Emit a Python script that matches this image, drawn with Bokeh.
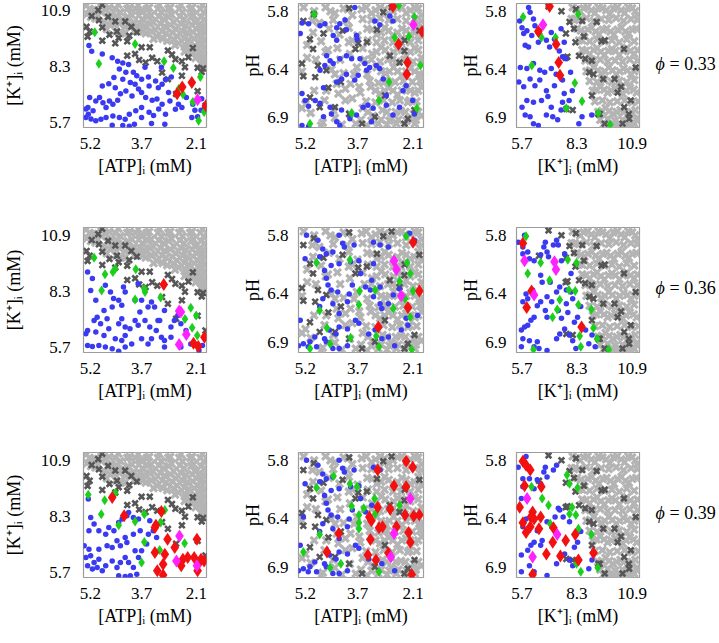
from bokeh.plotting import figure
from bokeh.layouts import column, row
from bokeh.models import Range1d, FixedTicker, LinearAxis, CustomJSTickFormatter
from bokeh.embed import file_html
from bokeh.resources import INLINE

FONT = "Liberation Serif"

# ---------------- axes ----------------
ATP_TICKS = [5.2, 3.7, 2.1]
K_TICKS = [5.7, 8.3, 10.9]
PH_TICKS = [5.8, 6.4, 6.9]
ATP_RANGE = (5.4, 1.8)      # reversed
K_RANGE = (5.45, 11.25)
PH_RANGE = (7.0, 5.72)      # reversed
PHI_LABELS = ["0.33", "0.36", "0.39"]
ATP_LABEL = "[ATP]\u1d62 (mM)"
K_LABEL = "[K\u207a]\u1d62 (mM)"
PH_LABEL = "pH"

# ---------------- shared grey samples (same in every row) ----------------
atp_k_lightgray = [
    (5.32, 11.15), (5.30, 10.75), (5.12, 10.95), (5.05, 10.55), (4.92, 11.18), (4.88, 10.85), (4.80, 10.40), (4.72, 10.05),
    (4.65, 11.05), (4.58, 10.70), (4.52, 10.30), (4.45, 9.95), (4.38, 11.20), (4.32, 10.85), (4.25, 10.50), (4.18, 10.15), (4.20, 9.85),
    (4.05, 11.05), (3.98, 10.70), (3.92, 10.35), (3.85, 10.05), (3.80, 11.18), (3.72, 10.88), (3.68, 10.52), (3.62, 10.20), (3.58, 9.85),
    (3.48, 11.05), (3.42, 10.70), (3.36, 10.38), (3.30, 10.02), (3.25, 9.70), (3.18, 11.18), (3.12, 10.85), (3.06, 10.52), (3.02, 10.18),
    (2.98, 9.85), (2.95, 9.50), (2.86, 11.05), (2.82, 10.72), (2.76, 10.38), (2.70, 10.05), (2.66, 9.72), (2.62, 9.40), (2.55, 11.18),
    (2.50, 10.85), (2.46, 10.52), (2.40, 10.20), (2.36, 9.88), (2.32, 9.55), (2.38, 9.20), (2.30, 8.95), (2.22, 11.05), (2.18, 10.70),
    (2.14, 10.38), (2.10, 10.05), (2.06, 9.72), (2.02, 9.40), (2.08, 9.08), (2.00, 8.78), (1.92, 11.18), (1.88, 10.85), (1.86, 10.52),
    (1.90, 10.20), (1.85, 9.88), (1.88, 9.55), (1.86, 9.22), (1.90, 8.92), (1.85, 8.60), (1.88, 8.35),
    (5.22, 11.00), (5.18, 10.62), (4.98, 10.70), (4.75, 10.95), (4.70, 10.60), (4.62, 10.25), (4.48, 11.00), (4.42, 10.65),
    (4.35, 10.30), (4.30, 9.85), (4.12, 11.00), (4.10, 10.62), (4.02, 10.28), (3.92, 9.95), (3.88, 11.00), (3.78, 10.68),
    (3.75, 10.30), (3.66, 9.95), (3.55, 11.00), (3.52, 10.65), (3.45, 10.30), (3.40, 9.95), (3.35, 9.60), (3.22, 11.00),
    (3.20, 10.65), (3.15, 10.30), (3.10, 9.95), (3.08, 9.60), (2.92, 11.00), (2.90, 10.62), (2.86, 10.25), (2.80, 9.90),
    (2.76, 9.58), (2.72, 9.30), (2.60, 11.00), (2.58, 10.65), (2.55, 10.30), (2.50, 9.95), (2.45, 9.62), (2.42, 9.30),
    (2.44, 9.00), (2.28, 11.00), (2.25, 10.62), (2.22, 10.25), (2.20, 9.92), (2.16, 9.60), (2.14, 9.28), (2.18, 8.98),
    (2.12, 8.70), (1.98, 11.00), (1.96, 10.62), (1.98, 10.28), (1.95, 9.95), (1.97, 9.62), (1.95, 9.30), (1.98, 9.00),
    (1.94, 8.65), (1.96, 8.45),
]
atp_k_darkgray = [
    (4.85, 11.19), (4.97, 10.94), (5.16, 10.67), (5.31, 10.16), (5.22, 9.94), (4.95, 10.47), (4.68, 10.63), (4.47, 10.41),
    (4.85, 10.13), (4.64, 9.79), (4.37, 9.64), (4.47, 9.39), (4.12, 9.48), (4.06, 9.74), (4.18, 10.41), (4.00, 10.16),
    (3.84, 9.90), (4.12, 8.81), (3.89, 8.89), (3.77, 8.61), (3.58, 8.49), (3.39, 8.71), (3.24, 8.55), (2.93, 9.05),
    (2.81, 8.86), (2.71, 8.64), (2.52, 8.55), (2.43, 8.27), (2.33, 8.74), (2.20, 9.17), (2.06, 8.24), (1.94, 8.05),
    (1.90, 8.21), (2.52, 7.87), (3.10, 8.02), (4.42, 9.94), (3.70, 9.20), (3.46, 9.20), (4.85, 9.51), (2.69, 7.02),
    (1.83, 6.47), (2.06, 7.15), (2.93, 7.71), (5.28, 9.70),
]
atp_ph_lightgray = [
    (5.25, 5.76), (4.95, 5.80), (4.62, 5.76), (4.35, 5.82), (4.10, 5.77), (3.85, 5.84), (3.58, 5.78), (3.30, 5.82), (3.05, 5.76),
    (2.80, 5.83), (2.55, 5.77), (2.30, 5.82), (2.05, 5.76), (1.86, 5.84), (4.98, 6.02), (4.52, 5.98), (4.22, 6.04), (3.95, 5.97),
    (3.70, 6.05), (3.42, 5.98), (3.15, 6.04), (2.92, 5.97), (2.68, 6.05), (2.42, 5.98), (2.18, 6.04), (1.95, 5.97), (4.62, 6.22),
    (4.28, 6.18), (3.92, 6.24), (3.55, 6.18), (3.28, 6.24), (3.02, 6.17), (2.78, 6.25), (2.55, 6.19), (2.30, 6.26), (2.05, 6.18),
    (1.86, 6.28), (5.30, 6.42), (4.45, 6.40), (4.10, 6.44), (3.72, 6.38), (3.42, 6.45), (3.15, 6.38), (2.90, 6.44), (2.66, 6.38),
    (2.42, 6.46), (2.18, 6.39), (1.92, 6.45), (4.60, 6.62), (4.05, 6.60), (3.62, 6.64), (3.32, 6.58), (3.05, 6.65), (2.80, 6.59),
    (2.55, 6.66), (2.30, 6.60), (2.05, 6.64), (1.86, 6.58), (5.05, 6.85), (4.40, 6.82), (3.92, 6.86), (3.55, 6.80), (3.25, 6.88),
    (2.98, 6.82), (2.72, 6.90), (2.45, 6.83), (2.20, 6.90), (1.95, 6.84), (4.15, 6.97), (3.75, 6.96), (3.42, 6.98), (3.10, 6.96),
    (2.85, 6.97), (2.58, 6.96), (2.32, 6.98), (2.05, 6.96), (2.70, 6.30), (2.45, 6.12), (2.90, 6.52), (2.20, 6.72), (3.50, 6.30),
    (3.85, 6.70),
    (4.48, 5.80), (3.98, 5.78), (3.45, 5.76), (3.18, 5.79), (2.92, 5.78), (2.68, 5.80), (2.42, 5.76), (2.18, 5.79), (1.95, 5.77),
    (3.28, 5.99), (3.02, 6.02), (2.80, 6.00), (2.55, 6.02), (2.30, 6.00), (2.06, 6.02), (1.86, 6.05),
    (3.15, 6.22), (2.90, 6.20), (2.66, 6.22), (2.42, 6.20), (2.18, 6.22), (1.95, 6.20),
    (3.02, 6.42), (2.78, 6.42), (2.55, 6.42), (2.30, 6.42), (2.05, 6.42), (1.86, 6.46),
    (3.18, 6.62), (2.92, 6.62), (2.68, 6.62), (2.42, 6.62), (2.18, 6.62), (1.95, 6.62),
    (3.40, 6.84), (2.85, 6.84), (2.60, 6.84), (2.32, 6.84), (2.08, 6.86), (1.86, 6.88),
    (3.55, 5.88), (3.30, 5.89), (3.05, 5.87), (2.80, 5.89), (2.55, 5.88), (2.30, 5.90), (2.05, 5.88), (1.86, 5.90), (4.40, 5.89),
    (5.00, 5.90), (3.40, 6.10), (3.15, 6.12), (2.92, 6.10), (2.68, 6.12), (2.42, 6.08), (2.18, 6.12), (1.95, 6.10), (3.95, 6.12),
    (4.75, 6.11), (3.30, 6.30), (3.05, 6.32), (2.82, 6.30), (2.58, 6.32), (2.35, 6.30), (2.10, 6.32), (1.88, 6.33), (4.20, 6.30),
    (5.15, 6.28), (3.35, 6.52), (3.10, 6.54), (2.85, 6.52), (2.62, 6.53), (2.38, 6.52), (2.12, 6.53), (1.90, 6.52), (4.30, 6.55),
    (3.90, 6.55), (3.45, 6.73), (3.18, 6.74), (2.95, 6.72), (2.70, 6.74), (2.48, 6.72), (2.25, 6.74), (2.00, 6.73), (4.05, 6.72),
    (5.20, 6.76), (3.60, 6.92), (3.30, 6.93), (3.02, 6.92), (2.78, 6.93), (2.52, 6.92), (2.28, 6.93), (2.02, 6.92), (4.70, 6.95),
    (5.15, 6.15), (4.90, 6.30), (4.55, 6.20), (4.35, 6.45), (4.95, 6.62), (4.65, 6.72), (4.25, 6.65), (3.80, 6.45), (3.65, 6.58),
    (3.85, 6.10), (4.00, 5.90), (4.80, 5.92), (5.30, 6.80), (4.75, 6.98), (4.35, 6.90),
]
atp_ph_darkgray = [
    (5.26, 5.90), (4.96, 5.83), (3.94, 5.77), (2.96, 5.81), (2.72, 5.76), (3.14, 5.99), (4.13, 6.00), (3.43, 6.12), (3.76, 6.19),
    (5.07, 6.09), (4.98, 6.19), (4.84, 6.36), (5.26, 6.47), (4.60, 6.41), (4.18, 6.53), (5.07, 6.69), (4.79, 6.79), (3.94, 6.86),
    (3.57, 6.96), (2.77, 6.26), (2.35, 6.21), (1.92, 6.00), (2.91, 6.67), (2.06, 6.82), (2.35, 6.96), (5.30, 6.34), (4.92, 6.48),
    (4.54, 6.59), (4.35, 6.79), (3.20, 6.89), (2.49, 6.33), (2.34, 6.10), (2.25, 6.91), (4.68, 6.03), (3.68, 6.13),
]
k_ph_lightgray = [
    (8.10, 5.76), (8.45, 5.80), (8.80, 5.76), (9.15, 5.82), (9.50, 5.77), (9.85, 5.83), (10.20, 5.76), (10.55, 5.82), (10.90, 5.77),
    (11.15, 5.84), (8.30, 5.98), (8.65, 6.02), (9.00, 5.97), (9.35, 6.04), (9.70, 5.98), (10.05, 6.04), (10.40, 5.97), (10.75, 6.03),
    (11.10, 5.98), (8.55, 6.20), (8.90, 6.24), (9.25, 6.18), (9.60, 6.25), (9.95, 6.19), (10.30, 6.25), (10.65, 6.18), (11.00, 6.24),
    (8.75, 6.42), (9.10, 6.38), (9.45, 6.44), (9.80, 6.38), (10.15, 6.45), (10.50, 6.39), (10.85, 6.45), (11.15, 6.40), (9.05, 6.62),
    (9.40, 6.58), (9.75, 6.64), (10.10, 6.60), (10.45, 6.65), (10.80, 6.59), (11.12, 6.64), (9.30, 6.84), (9.65, 6.80), (10.00, 6.86),
    (10.35, 6.82), (10.70, 6.88), (11.05, 6.82), (9.55, 6.97), (9.95, 6.98), (10.30, 6.96), (10.65, 6.98), (11.00, 6.96), (8.40, 6.10),
    (9.00, 6.30), (8.20, 5.88),
    (8.28, 5.78), (8.62, 5.77), (8.98, 5.79), (9.32, 5.76), (9.68, 5.79), (10.02, 5.77), (10.38, 5.79), (10.72, 5.76), (11.05, 5.80),
    (8.48, 6.00), (8.82, 5.99), (9.18, 6.01), (9.52, 5.99), (9.88, 6.01), (10.22, 5.99), (10.58, 6.01), (10.92, 5.99),
    (8.72, 6.21), (9.08, 6.20), (9.42, 6.22), (9.78, 6.21), (10.12, 6.21), (10.48, 6.21), (10.82, 6.21), (11.15, 6.20),
    (8.92, 6.41), (9.28, 6.41), (9.62, 6.42), (9.98, 6.41), (10.32, 6.42), (10.68, 6.41), (11.00, 6.42),
    (9.22, 6.61), (9.58, 6.61), (9.92, 6.62), (10.28, 6.61), (10.62, 6.62), (10.98, 6.61),
    (9.48, 6.83), (9.82, 6.83), (10.18, 6.84), (10.52, 6.84), (10.88, 6.84), (11.15, 6.90),
    (9.75, 6.97), (10.12, 6.97), (10.48, 6.97), (10.82, 6.97),
    (8.05, 5.88), (8.40, 5.89), (8.75, 5.87), (9.10, 5.90), (9.45, 5.88), (9.80, 5.89), (10.15, 5.87), (10.50, 5.90), (10.85, 5.88),
    (11.15, 5.89), (8.55, 6.10), (8.90, 6.11), (9.25, 6.09), (9.60, 6.11), (9.95, 6.10), (10.30, 6.12), (10.65, 6.09), (11.00, 6.11),
    (8.70, 6.31), (9.05, 6.32), (9.40, 6.30), (9.75, 6.32), (10.10, 6.31), (10.45, 6.32), (10.80, 6.30), (11.15, 6.31),
    (8.90, 6.52), (9.25, 6.53), (9.60, 6.51), (9.95, 6.53), (10.30, 6.52), (10.65, 6.53), (11.00, 6.51),
    (9.15, 6.73), (9.50, 6.72), (9.85, 6.74), (10.20, 6.73), (10.55, 6.72), (10.90, 6.74), (11.20, 6.73),
    (9.40, 6.92), (9.75, 6.91), (10.10, 6.93), (10.45, 6.92), (10.80, 6.91), (11.15, 6.93),
]
k_ph_darkgray = [
    (6.96, 5.75), (7.57, 5.80), (8.25, 5.78), (7.95, 5.91), (8.55, 5.90), (6.51, 6.01), (8.63, 6.06), (9.46, 6.11), (10.52, 6.19),
    (8.40, 6.26), (7.77, 6.28), (9.08, 6.45), (9.54, 6.50), (10.07, 6.50), (10.22, 6.64), (9.01, 6.67), (9.31, 6.86), (10.75, 6.86),
    (10.45, 6.96), (7.80, 6.81), (8.10, 6.82), (8.16, 5.98), (7.78, 6.03), (9.23, 5.91), (9.61, 6.10), (8.23, 6.12), (7.85, 6.27),
    (8.69, 6.29), (9.00, 6.31), (8.88, 6.43), (10.38, 6.58), (10.84, 6.72), (11.07, 6.38), (10.53, 6.79), (10.76, 6.91), (9.61, 6.96),
    (9.38, 6.86),
]

# ---------------- phi = 0.33 ----------------
r1_atp_k_blue = [
    (5.24, 9.28), (5.16, 9.02), (4.85, 8.89), (4.56, 8.71), (4.40, 8.55), (4.25, 8.47), (4.08, 8.40), (4.35, 8.19), (4.16, 8.04),
    (3.94, 8.04), (3.84, 7.87), (3.70, 7.71), (3.50, 7.81), (4.03, 7.56), (3.89, 7.47), (3.79, 7.25), (4.25, 7.71), (4.51, 7.79),
    (4.66, 7.50), (4.85, 7.39), (4.47, 7.31), (4.32, 7.03), (4.16, 7.16), (3.98, 6.92), (3.70, 7.09), (3.58, 6.85), (3.39, 6.72),
    (3.25, 6.78), (3.21, 7.31), (3.48, 7.39), (3.29, 7.62), (3.10, 7.47), (3.00, 7.70), (2.91, 7.09), (2.87, 6.69), (3.10, 6.54),
    (3.20, 6.32), (3.00, 6.07), (3.35, 6.01), (3.48, 6.16), (3.70, 6.38), (3.87, 6.23), (4.06, 6.07), (4.18, 5.84), (4.25, 5.54),
    (4.06, 5.51), (3.91, 5.60), (3.70, 5.92), (4.35, 5.92), (4.54, 5.99), (4.74, 5.92), (4.89, 5.84), (5.04, 5.76), (5.18, 5.85),
    (5.33, 5.92), (5.27, 6.38), (5.12, 6.23), (4.93, 6.85), (5.04, 6.69), (4.83, 6.61), (4.64, 6.69), (4.74, 6.38), (4.54, 6.54),
    (4.40, 6.72), (5.22, 6.85), (5.33, 6.32), (5.26, 6.07), (2.20, 6.54), (2.14, 6.26), (2.06, 5.95), (1.96, 6.26), (1.94, 6.80),
    (2.23, 5.92), (2.62, 6.54), (2.52, 6.38), (2.71, 6.30), (2.39, 6.85), (3.60, 8.27), (3.12, 8.27), (2.83, 7.81), (3.41, 5.64),
    (3.02, 5.60), (4.56, 5.56),
]
r1_atp_k_green = [(5.07, 9.90), (3.89, 9.36), (4.95, 8.43), (3.04, 8.55), (2.77, 8.23), (1.98, 7.81), (2.61, 7.26), (2.49, 7.00),
                  (2.20, 6.64), (1.87, 6.18), (2.03, 5.76)]
r1_atp_k_red = [(2.51, 7.34), (2.66, 7.03), (2.23, 7.56), (1.82, 6.47)]
r1_atp_k_magenta = [(2.06, 6.75)]

r1_atp_ph_blue = [
    (5.30, 5.92), (5.11, 5.93), (5.35, 6.03), (4.78, 5.95), (4.64, 5.93), (4.30, 5.97), (4.21, 5.93), (4.40, 6.05), (4.30, 6.10),
    (4.02, 5.99), (4.06, 5.89), (3.78, 5.76), (3.73, 6.05), (3.71, 6.09), (3.20, 5.90), (3.06, 5.94), (2.77, 5.85), (2.68, 5.90),
    (4.59, 6.26), (4.49, 6.31), (4.40, 6.34), (4.64, 6.36), (4.78, 6.41), (4.21, 6.29), (4.02, 6.26), (3.87, 6.29), (3.63, 6.29),
    (3.49, 6.34), (3.35, 6.38), (3.16, 6.36), (3.06, 6.39), (2.96, 6.50), (3.44, 6.41), (3.68, 6.46), (3.78, 6.51), (4.02, 6.45),
    (4.16, 6.50), (4.30, 6.53), (4.68, 6.59), (5.30, 6.65), (5.21, 6.72), (5.11, 6.78), (4.92, 6.72), (4.78, 6.75), (4.49, 6.79),
    (4.45, 6.86), (4.16, 6.82), (3.92, 6.91), (3.73, 6.87), (3.54, 6.79), (3.40, 6.77), (3.25, 6.80), (2.87, 6.77), (2.68, 6.87),
    (2.49, 6.79), (2.11, 6.72), (2.39, 6.62), (2.87, 6.67), (3.30, 6.94), (4.21, 6.98), (4.30, 6.94), (5.11, 6.99), (5.30, 6.98),
    (4.68, 6.89), (2.06, 6.86), (2.30, 6.57),
]
r1_atp_ph_green = [(4.95, 5.83), (2.51, 5.74), (2.06, 5.86), (2.63, 6.07), (2.22, 6.06), (1.89, 6.36), (2.79, 6.53), (3.08, 6.72),
                   (3.87, 6.85), (5.07, 6.96), (1.99, 6.80)]
r1_atp_ph_red = [(2.68, 5.75), (1.84, 6.01), (2.52, 6.14), (2.26, 6.33), (2.28, 6.45)]
r1_atp_ph_magenta = [(2.09, 5.94)]

r1_k_ph_blue = [
    (5.60, 5.90), (5.71, 5.97), (5.94, 6.00), (6.02, 5.76), (6.09, 5.81), (6.25, 5.88), (6.32, 5.95), (5.79, 6.03), (5.86, 6.15),
    (6.02, 6.17), (6.17, 6.05), (6.48, 6.12), (6.86, 6.10), (7.01, 6.17), (7.09, 6.02), (7.24, 6.09), (7.55, 5.98), (7.47, 6.21),
    (7.62, 6.27), (7.70, 6.12), (7.78, 6.29), (5.63, 6.38), (5.94, 6.39), (6.25, 6.34), (6.55, 6.41), (6.78, 6.43), (7.09, 6.39),
    (7.32, 6.45), (7.24, 6.57), (7.62, 6.51), (8.00, 6.43), (5.56, 6.53), (5.79, 6.58), (6.09, 6.50), (6.32, 6.57), (6.55, 6.51),
    (6.86, 6.62), (6.93, 6.68), (6.63, 6.72), (6.25, 6.74), (5.94, 6.72), (5.71, 6.79), (5.86, 6.87), (6.09, 6.89), (6.25, 6.96),
    (6.48, 6.98), (6.86, 6.87), (7.16, 6.89), (7.39, 6.92), (7.55, 6.82), (7.62, 6.74), (7.93, 6.72), (7.70, 6.65), (8.08, 6.62),
    (8.54, 6.89), (9.00, 6.87), (8.39, 6.96), (7.09, 6.79),
]
r1_k_ph_green = [(5.76, 5.86), (8.36, 5.83), (6.63, 6.07), (7.29, 6.07), (6.17, 6.36), (8.20, 6.54), (8.54, 6.73), (7.80, 6.80),
                 (9.31, 6.85), (9.87, 6.97)]
r1_k_ph_red = [(7.01, 5.75), (6.48, 6.01), (7.32, 6.14), (7.44, 6.33), (7.50, 6.46)]
r1_k_ph_magenta = [(6.70, 5.94)]

# ---------------- phi = 0.36 ----------------
r2_atp_k_blue = [
    (5.28, 9.19), (5.14, 8.88), (5.19, 8.33), (5.04, 7.87), (4.76, 8.57), (4.61, 8.26), (4.52, 7.95), (4.37, 7.87), (4.23, 8.49),
    (4.18, 8.26), (4.28, 7.64), (4.56, 7.56), (4.80, 7.40), (5.00, 7.09), (5.09, 6.94), (4.90, 6.78), (4.71, 7.02), (4.66, 6.55),
    (4.37, 6.78), (4.28, 7.02), (4.18, 6.63), (4.04, 6.55), (3.89, 6.94), (3.80, 6.71), (3.75, 7.33), (3.70, 7.87), (3.51, 7.56),
    (3.41, 7.79), (3.32, 7.56), (3.22, 6.94), (3.27, 6.47), (3.46, 6.63), (3.41, 6.09), (3.12, 6.16), (3.03, 6.01), (3.17, 6.94),
    (3.03, 7.40), (2.84, 6.63), (2.74, 6.94), (2.64, 7.17), (2.84, 6.16), (3.03, 5.70), (3.51, 5.85), (3.70, 6.09), (3.99, 5.85),
    (4.18, 5.70), (4.37, 5.51), (4.56, 5.62), (4.76, 5.70), (4.95, 5.78), (5.14, 5.73), (5.28, 5.78), (5.33, 6.32), (5.28, 6.47),
    (5.04, 6.40), (4.80, 6.24), (4.47, 6.09), (4.28, 6.01), (4.18, 6.24), (2.55, 6.78), (2.40, 6.47), (2.26, 5.85), (2.02, 5.54),
    (1.92, 5.78), (2.55, 5.70), (3.60, 6.94), (3.89, 7.87), (3.80, 8.64),
]
r2_atp_k_green = [(5.09, 9.85), (4.77, 9.08), (4.54, 9.19), (4.47, 9.34), (4.87, 8.33), (3.87, 9.31), (3.62, 8.41), (3.60, 8.26),
                  (3.89, 7.91), (3.14, 8.00), (2.26, 7.53), (2.10, 7.17), (2.43, 7.00), (2.22, 6.60), (2.07, 6.24)]
r2_atp_k_red = [(3.05, 8.60), (2.18, 5.88), (2.04, 5.73), (1.86, 6.16)]
r2_atp_k_magenta = [(2.60, 7.37), (2.55, 7.33), (2.39, 6.29), (2.60, 5.82)]

r2_atp_ph_blue = [
    (5.17, 5.80), (4.84, 5.85), (4.23, 5.80), (4.13, 5.88), (4.08, 5.92), (3.80, 5.90), (4.41, 5.97), (4.70, 5.94), (4.60, 5.99),
    (4.79, 6.02), (5.21, 6.04), (4.65, 6.16), (4.46, 6.11), (4.23, 6.09), (3.90, 6.07), (3.66, 6.06), (3.24, 6.09), (3.05, 5.90),
    (3.24, 5.87), (3.61, 6.19), (3.47, 6.33), (3.33, 6.36), (3.24, 6.43), (3.05, 6.50), (3.00, 6.55), (2.81, 6.50), (2.67, 6.41),
    (2.49, 6.35), (4.60, 6.24), (4.55, 6.31), (4.46, 6.36), (4.27, 6.38), (4.70, 6.45), (4.79, 6.53), (4.41, 6.50), (4.23, 6.60),
    (3.99, 6.48), (3.94, 6.40), (3.85, 6.31), (3.76, 6.67), (3.66, 6.70), (3.99, 6.76), (4.23, 6.74), (4.32, 6.81), (4.51, 6.77),
    (4.65, 6.86), (4.60, 6.89), (4.93, 6.84), (5.07, 6.89), (5.35, 6.67), (5.40, 6.93), (5.26, 6.91), (5.12, 6.94), (4.88, 6.94),
    (4.41, 6.96), (4.23, 6.96), (3.99, 6.93), (3.38, 6.81), (3.19, 6.77), (3.00, 6.86), (2.81, 6.84), (2.63, 6.93), (2.44, 6.77),
    (2.30, 6.65), (2.25, 6.72), (1.97, 6.62), (1.92, 6.38), (2.06, 5.85), (2.20, 5.78), (2.81, 5.92), (3.29, 6.26), (3.05, 6.33),
]
r2_atp_ph_green = [(2.30, 5.81), (4.88, 6.08), (3.92, 6.05), (2.27, 6.08), (2.18, 6.19), (2.49, 6.27), (3.64, 6.37), (3.19, 6.36),
                   (3.66, 6.51), (2.33, 6.45), (2.10, 6.37), (2.67, 6.55), (2.18, 6.64), (4.79, 6.57), (4.58, 6.75), (3.90, 6.85),
                   (4.49, 6.91), (5.07, 6.96), (3.16, 6.83), (3.08, 6.94), (2.14, 6.97)]
r2_atp_ph_red = [(2.10, 5.87), (1.92, 6.37), (2.25, 6.54), (3.10, 6.74)]
r2_atp_ph_magenta = [(2.65, 6.06), (2.58, 6.15), (2.44, 6.42)]

r2_k_ph_blue = [
    (5.53, 5.87), (5.83, 5.80), (5.75, 5.92), (5.98, 5.97), (5.75, 5.99), (6.06, 6.04), (6.28, 6.06), (6.59, 6.00), (6.74, 5.92),
    (6.89, 5.97), (6.96, 6.02), (6.81, 5.87), (7.19, 5.90), (7.42, 5.90), (7.34, 5.85), (7.72, 5.99), (7.57, 6.06), (8.02, 6.19),
    (6.59, 6.21), (6.66, 6.28), (7.04, 6.28), (7.49, 6.33), (7.34, 6.38), (7.80, 6.36), (8.02, 6.38), (6.89, 6.43), (7.11, 6.48),
    (6.21, 6.36), (5.90, 6.40), (5.75, 6.48), (5.98, 6.45), (6.43, 6.52), (6.59, 6.48), (6.81, 6.57), (7.80, 6.50), (7.87, 6.59),
    (7.42, 6.57), (7.57, 6.65), (6.89, 6.64), (6.28, 6.64), (6.13, 6.67), (5.98, 6.72), (5.83, 6.74), (5.68, 6.77), (5.75, 6.86),
    (6.06, 6.88), (6.43, 6.89), (6.28, 6.94), (5.68, 6.94), (6.51, 6.96), (6.89, 6.98), (7.34, 6.86), (7.49, 6.81), (7.72, 6.76),
    (7.95, 6.82), (8.10, 6.88), (8.25, 6.96), (8.71, 6.77), (8.86, 6.91), (9.16, 6.94), (9.01, 6.82), (8.33, 6.64), (8.18, 6.69),
    (8.48, 6.53), (8.10, 6.45),
]
r2_k_ph_green = [(5.90, 5.81), (6.59, 6.08), (5.98, 6.19), (7.01, 6.26), (7.87, 6.05), (8.28, 6.08), (7.92, 6.36), (8.22, 6.37),
                 (7.49, 6.46), (7.37, 6.56), (8.37, 6.51), (7.15, 6.64), (8.98, 6.56), (9.08, 6.75), (8.43, 6.83), (9.25, 6.86),
                 (9.80, 6.97), (8.48, 6.94), (6.25, 6.97)]
r2_k_ph_red = [(5.75, 5.88), (6.16, 6.37), (5.93, 6.54), (8.52, 6.74)]
r2_k_ph_magenta = [(5.83, 6.06), (7.24, 6.07), (7.31, 6.15), (6.28, 6.41)]

# ---------------- phi = 0.39 ----------------
r3_atp_k_blue = [
    (5.26, 9.09), (5.19, 8.23), (5.24, 7.62), (5.09, 7.93), (4.95, 7.62), (4.75, 7.46), (4.66, 7.77), (4.51, 7.62), (4.37, 8.00),
    (4.27, 8.16), (4.08, 8.47), (4.13, 8.31), (3.94, 8.23), (4.42, 7.15), (4.32, 6.92), (4.13, 7.07), (4.18, 7.31), (4.56, 6.84),
    (4.71, 6.92), (4.95, 6.76), (5.24, 6.76), (5.38, 6.92), (5.33, 6.38), (5.19, 6.46), (5.09, 6.15), (4.95, 6.30), (5.28, 5.99),
    (5.14, 5.84), (5.00, 5.91), (4.85, 5.76), (4.75, 5.99), (4.56, 6.22), (4.42, 5.91), (4.32, 6.15), (4.18, 6.38), (4.37, 5.53),
    (4.18, 5.50), (4.03, 5.53), (3.84, 5.60), (3.94, 5.91), (3.79, 6.38), (3.70, 6.69), (3.89, 6.69), (3.55, 7.00), (3.50, 7.46),
    (3.74, 7.62), (3.94, 7.46), (3.79, 8.16), (3.46, 8.08), (3.36, 7.62), (3.26, 7.31), (4.08, 6.15),
]
r3_atp_k_green = [(5.26, 9.29), (4.47, 9.37), (4.78, 9.04), (4.88, 8.39), (4.37, 7.88), (3.89, 8.05), (3.62, 8.39), (3.02, 8.58),
                  (3.14, 8.00), (2.44, 7.04), (3.62, 7.10), (3.17, 6.73), (3.70, 6.15)]
r3_atp_k_red = [(4.56, 9.16), (4.21, 8.31), (3.12, 8.51), (3.28, 7.88), (3.31, 7.77), (2.94, 7.23), (2.73, 6.84), (3.31, 6.61),
                (3.02, 6.53), (3.07, 6.07), (3.24, 5.76), (3.07, 5.57), (2.49, 6.30), (2.54, 5.99), (2.35, 6.38), (2.08, 7.23),
                (2.16, 6.38), (1.99, 6.19), (2.06, 5.76), (1.87, 6.22), (1.96, 6.30)]
r3_atp_k_magenta = [(2.59, 7.38), (2.68, 6.22), (2.08, 5.99)]

r3_atp_ph_blue = [
    (5.17, 5.80), (4.84, 5.85), (4.23, 5.80), (4.13, 5.88), (4.08, 5.92), (3.80, 5.90), (4.41, 5.97), (4.70, 5.94), (4.60, 5.99),
    (4.79, 6.02), (5.21, 6.04), (4.65, 6.16), (4.46, 6.11), (4.23, 6.09), (3.90, 6.07), (3.66, 6.06), (3.61, 6.19), (3.47, 6.33),
    (4.60, 6.24), (4.55, 6.31), (4.46, 6.36), (4.27, 6.38), (4.70, 6.45), (4.79, 6.53), (4.41, 6.50), (4.23, 6.60), (3.99, 6.48),
    (3.94, 6.40), (3.85, 6.31), (3.76, 6.67), (3.66, 6.70), (3.99, 6.76), (4.23, 6.74), (4.32, 6.81), (4.51, 6.77), (4.65, 6.86),
    (4.60, 6.89), (4.93, 6.84), (5.07, 6.89), (5.35, 6.67), (5.40, 6.93), (5.26, 6.91), (5.12, 6.94), (4.88, 6.94), (4.41, 6.96),
    (4.23, 6.96), (3.99, 6.93), (3.38, 6.81), (3.00, 6.86), (2.63, 6.93), (3.05, 5.90), (3.24, 5.87), (3.29, 6.26), (5.26, 6.38),
]
r3_atp_ph_green = [(4.39, 5.96), (4.88, 6.08), (3.92, 6.04), (3.71, 6.07), (3.21, 6.19), (2.49, 6.26), (3.87, 6.27), (3.66, 6.36),
                   (3.52, 6.29), (3.19, 6.35), (3.66, 6.44), (3.66, 6.50), (4.79, 6.56), (5.26, 6.74), (4.49, 6.90), (4.18, 6.86),
                   (3.08, 6.94)]
r3_atp_ph_red = [(3.12, 5.90), (2.30, 5.81), (2.11, 5.87), (2.65, 6.06), (2.30, 6.07), (3.12, 6.28), (2.76, 6.30), (3.36, 6.38),
                 (3.30, 6.42), (3.08, 6.49), (2.98, 6.48), (2.58, 6.48), (2.33, 6.36), (2.08, 6.37), (1.92, 6.36), (2.23, 6.54),
                 (4.24, 6.55), (3.33, 6.61), (2.18, 6.64), (4.58, 6.74), (3.40, 6.77), (3.17, 6.82), (2.81, 6.75), (2.14, 6.97)]
r3_atp_ph_magenta = [(2.18, 6.19), (2.65, 6.55), (2.74, 6.79)]

r3_k_ph_blue = [
    (5.90, 5.76), (6.06, 5.99), (6.43, 6.00), (6.74, 5.92), (6.81, 5.87), (6.89, 5.97), (7.19, 5.90), (6.28, 6.09), (6.59, 6.04),
    (5.75, 6.07), (5.68, 6.19), (7.42, 6.29), (7.27, 6.38), (7.65, 6.38), (6.89, 6.43), (7.11, 6.48), (6.43, 6.52), (5.90, 6.40),
    (5.75, 6.48), (6.28, 6.64), (6.13, 6.67), (5.98, 6.72), (5.68, 6.77), (6.06, 6.88), (6.28, 6.94), (5.68, 6.94), (6.89, 6.98),
    (7.34, 6.86), (7.72, 6.76), (7.95, 6.82), (8.10, 6.88), (8.86, 6.91), (9.01, 6.82), (8.33, 6.64), (8.18, 6.69), (8.48, 6.53),
    (6.66, 6.62), (7.49, 6.31), (7.95, 6.43), (5.53, 5.87), (5.75, 5.99), (6.59, 6.67), (7.34, 5.85),
]
r3_k_ph_green = [(6.16, 6.07), (7.83, 5.95), (7.95, 6.04), (8.33, 6.08), (6.66, 6.19), (6.96, 6.26), (8.07, 6.28), (7.95, 6.35),
                 (8.25, 6.36), (7.04, 6.45), (8.37, 6.50), (8.98, 6.56), (9.08, 6.74), (8.28, 6.86), (8.48, 6.94), (9.28, 6.90)]
r3_k_ph_red = [(5.75, 5.81), (5.90, 5.85), (6.10, 5.90), (5.83, 6.06), (6.62, 6.07), (5.60, 6.28), (6.21, 6.33), (6.13, 6.38),
               (6.28, 6.40), (6.59, 6.38), (5.75, 6.44), (6.10, 6.48), (6.51, 6.50), (5.90, 6.54), (7.19, 6.49), (7.16, 6.64),
               (7.77, 6.62), (8.22, 6.56), (6.86, 6.76), (7.52, 6.78), (8.37, 6.82), (9.08, 6.75), (6.21, 6.97)]
r3_k_ph_magenta = [(5.95, 6.19), (7.37, 6.56), (6.21, 6.79)]

PANELS = [
    [(r1_atp_k_blue, r1_atp_k_green, r1_atp_k_red, r1_atp_k_magenta),
     (r1_atp_ph_blue, r1_atp_ph_green, r1_atp_ph_red, r1_atp_ph_magenta),
     (r1_k_ph_blue, r1_k_ph_green, r1_k_ph_red, r1_k_ph_magenta)],
    [(r2_atp_k_blue, r2_atp_k_green, r2_atp_k_red, r2_atp_k_magenta),
     (r2_atp_ph_blue, r2_atp_ph_green, r2_atp_ph_red, r2_atp_ph_magenta),
     (r2_k_ph_blue, r2_k_ph_green, r2_k_ph_red, r2_k_ph_magenta)],
    [(r3_atp_k_blue, r3_atp_k_green, r3_atp_k_red, r3_atp_k_magenta),
     (r3_atp_ph_blue, r3_atp_ph_green, r3_atp_ph_red, r3_atp_ph_magenta),
     (r3_k_ph_blue, r3_k_ph_green, r3_k_ph_red, r3_k_ph_magenta)],
]
GREYS = [(atp_k_lightgray, atp_k_darkgray), (atp_ph_lightgray, atp_ph_darkgray), (k_ph_lightgray, k_ph_darkgray)]
COL_AXES = [  # x range, y range, x ticks, y ticks, x label, y label
    (ATP_RANGE, K_RANGE, ATP_TICKS, K_TICKS, ATP_LABEL, K_LABEL),
    (ATP_RANGE, PH_RANGE, ATP_TICKS, PH_TICKS, ATP_LABEL, PH_LABEL),
    (K_RANGE, PH_RANGE, K_TICKS, PH_TICKS, K_LABEL, PH_LABEL),
]

# ---------------- layout geometry (pixels) ----------------
FW = 125
COL_W = [217, 218, 283]
COL_L = [81, 81, 81]
ROW_H = [225, 225, 192]
ROW_T = [3, 2, 2]
ROW_FH = [124, 125, 125]
PHI_Y = 6.34


def xs(pts):
    return [a for a, _ in pts]


def ys(pts):
    return [b for _, b in pts]


def style_axis(ax, standoff, label_standoff):
    ax.axis_line_color = None
    ax.major_tick_line_color = None
    ax.minor_tick_line_color = None
    ax.major_tick_out = 0
    ax.major_tick_in = 0
    ax.minor_tick_out = 0
    ax.minor_tick_in = 0
    ax.major_label_text_font = FONT
    ax.major_label_text_font_size = "17px"
    ax.major_label_text_color = "black"
    ax.major_label_standoff = standoff
    ax.axis_label_text_font = FONT
    ax.axis_label_text_font_size = "18px"
    ax.axis_label_text_font_style = "normal"
    ax.axis_label_text_color = "black"
    ax.axis_label_standoff = label_standoff


def text_axis(text, standoff, italic):
    ax = LinearAxis(ticker=FixedTicker(ticks=[PHI_Y]),
                    formatter=CustomJSTickFormatter(code=f"return '{text}';"))
    style_axis(ax, standoff, 0)
    ax.major_label_text_font_size = "18px"
    if italic:
        ax.major_label_text_font_style = "italic"
    return ax


def make_panel(r, c):
    xr, yr, xt, yt, xl, yl = COL_AXES[c]
    W, L = COL_W[c], COL_L[c]
    H, T, FH = ROW_H[r], ROW_T[r], ROW_FH[r]
    p = figure(width=W, height=H, x_range=Range1d(*xr), y_range=Range1d(*yr),
               output_backend="svg", toolbar_location=None,
               min_border_left=L, min_border_right=W - L - FW,
               min_border_top=T, min_border_bottom=H - T - FH)
    p.grid.visible = False
    p.outline_line_color = "#9c9c9c"
    p.outline_line_width = 1.2
    p.background_fill_color = "white"
    p.border_fill_color = "white"
    p.xaxis.ticker = FixedTicker(ticks=xt)
    p.yaxis.ticker = FixedTicker(ticks=yt)
    p.xaxis.axis_label = xl
    p.yaxis.axis_label = yl
    style_axis(p.xaxis[0], 10, 4)
    if c == 0:
        style_axis(p.yaxis[0], 13, 14)
    else:
        style_axis(p.yaxis[0], 10, 1)

    light, dark = GREYS[c]
    blue, green, red, magenta = PANELS[r][c]
    p.scatter(xs(light), ys(light), marker="x", size=10, line_color="#b4b4b4", line_width=3.2)
    p.scatter(xs(dark), ys(dark), marker="x", size=8, line_color="#565656", line_width=2.6)
    p.scatter(xs(blue), ys(blue), marker="circle", size=5.5, fill_color="#3a3af2", line_color=None)
    p.scatter(xs(green), ys(green), marker="diamond", size=10, fill_color="#1ccf1c", line_color=None)
    p.scatter(xs(red), ys(red), marker="diamond", size=13, fill_color="#f21010", line_color=None)
    p.scatter(xs(magenta), ys(magenta), marker="diamond", size=13, fill_color="#ff22ff", line_color=None)

    if c == 2:
        p.add_layout(text_axis("\u03d5", 16, True), "right")
        p.add_layout(text_axis("= " + PHI_LABELS[r], 2, False), "right")
    return p


rows = [row([make_panel(r, c) for c in range(3)]) for r in range(3)]
layout = column(rows)

open("out.html", "w").write(file_html(layout, INLINE))
